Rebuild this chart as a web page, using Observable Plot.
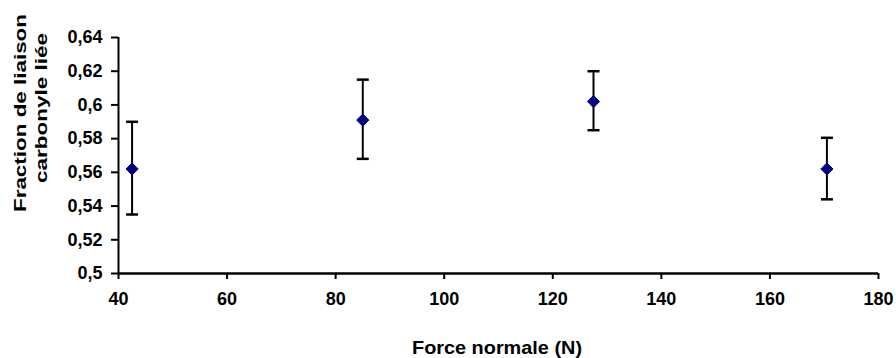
<!DOCTYPE html>
<html>
<head>
<meta charset="utf-8">
<script src="https://cdn.jsdelivr.net/npm/d3@7"></script>
<script src="https://cdn.jsdelivr.net/npm/@observablehq/plot@0.6"></script>
<style>
  html, body { margin: 0; padding: 0; background: #fff; }
  svg { display: block; }
</style>
</head>
<body>
<div id="chart"></div>
<script>
const forces = [42.5, 85, 127.5, 170.5];
const fractions = [0.562, 0.591, 0.602, 0.562];
const errLow = [0.535, 0.568, 0.585, 0.544];
const errHigh = [0.590, 0.615, 0.620, 0.5805];
const xTicks = [40, 60, 80, 100, 120, 140, 160, 180];
const yTicks = [0.5, 0.52, 0.54, 0.56, 0.58, 0.6, 0.62, 0.64];
const xLabel = "Force normale (N)";
const yLabelLines = ["Fraction de liaison", "carbonyle liée"];

const data = forces.map((f, i) => ({x: f, y: fractions[i], lo: errLow[i], hi: errHigh[i]}));

const capSymbol = {
  draw(context, size) {
    const w = 6;
    context.moveTo(-w, 0);
    context.lineTo(w, 0);
  }
};

const fmt = d => String(+d.toFixed(2)).replace(".", ",");
const font = "'Liberation Sans', Arial, sans-serif";

const chart = Plot.plot({
  width: 896,
  height: 358,
  marginLeft: 118,
  marginRight: 18,
  marginTop: 37,
  marginBottom: 85,
  style: {fontFamily: font, fontSize: "18px", fontWeight: "bold", color: "#000", background: "#fff"},
  x: {domain: [40, 180]},
  y: {domain: [0.5, 0.64]},
  marks: [
    Plot.axisY({ticks: yTicks, tickFormat: fmt, tickSize: 7, tickPadding: 9, strokeWidth: 2, label: null, fontSize: 18, fontWeight: "bold"}),
    Plot.axisX({ticks: xTicks, tickSize: 6, tickPadding: 13, strokeWidth: 2, label: null, fontSize: 18, fontWeight: "bold"}),
    Plot.ruleX([40], {stroke: "#000", strokeWidth: 2}),
    Plot.ruleY([0.5], {stroke: "#000", strokeWidth: 2.5}),
    Plot.ruleX(data, {x: "x", y1: "lo", y2: "hi", stroke: "#000", strokeWidth: 2}),
    Plot.dot(data, {x: "x", y: "lo", symbol: capSymbol, stroke: "#000", strokeWidth: 2.5, r: 6}),
    Plot.dot(data, {x: "x", y: "hi", symbol: capSymbol, stroke: "#000", strokeWidth: 2.5, r: 6}),
    Plot.dot(data, {x: "x", y: "y", symbol: "diamond2", fill: "#000080", stroke: "#000080", strokeWidth: 1, r: 5.5})
  ]
});

const svg = d3.select(chart);
svg.append("text")
  .attr("x", 497).attr("y", 354)
  .attr("text-anchor", "middle")
  .attr("font-family", font).attr("font-size", 18).attr("font-weight", "bold")
  .attr("textLength", 170).attr("lengthAdjust", "spacingAndGlyphs")
  .text(xLabel);

svg.append("text")
  .attr("transform", "translate(26,113) rotate(-90)")
  .attr("text-anchor", "middle")
  .attr("font-family", font).attr("font-size", 17).attr("font-weight", "bold")
  .attr("textLength", 198).attr("lengthAdjust", "spacingAndGlyphs")
  .text(yLabelLines[0]);
svg.append("text")
  .attr("transform", "translate(47,108) rotate(-90)")
  .attr("text-anchor", "middle")
  .attr("font-family", font).attr("font-size", 17).attr("font-weight", "bold")
  .attr("textLength", 150).attr("lengthAdjust", "spacingAndGlyphs")
  .text(yLabelLines[1]);

document.getElementById("chart").appendChild(chart);
</script>
</body>
</html>
